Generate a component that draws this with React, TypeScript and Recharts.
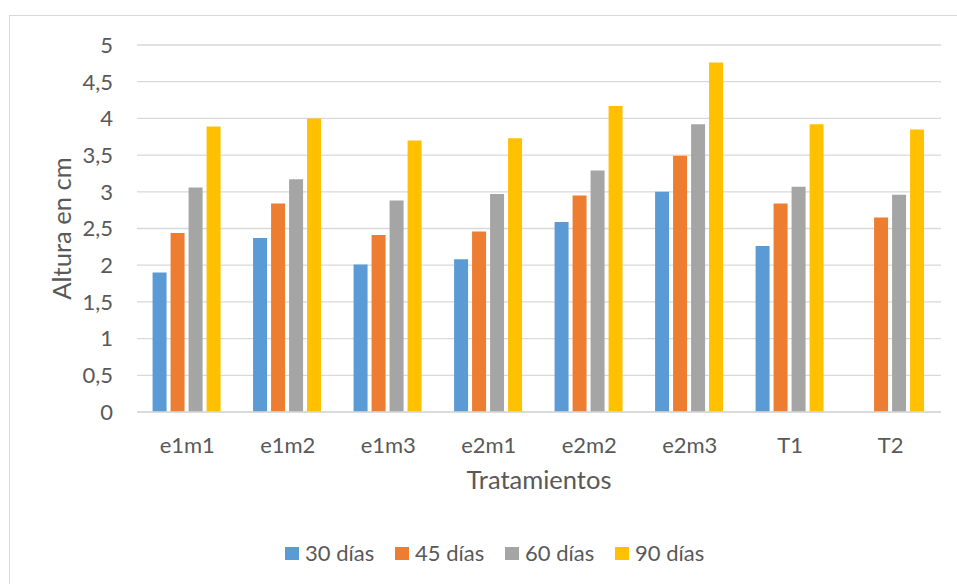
import { Bar, BarChart, CartesianGrid, Label, XAxis, YAxis } from "recharts";

const categories = ["e1m1", "e1m2", "e1m3", "e2m1", "e2m2", "e2m3", "T1", "T2"];
const dias30 = [1.9, 2.37, 2.01, 2.08, 2.59, 3.0, 2.26, null];
const dias45 = [2.44, 2.84, 2.41, 2.46, 2.95, 3.49, 2.84, 2.65];
const dias60 = [3.06, 3.17, 2.88, 2.97, 3.29, 3.92, 3.07, 2.96];
const dias90 = [3.89, 4.0, 3.7, 3.73, 4.17, 4.76, 3.92, 3.85];

const seriesKeys = ["d30", "d45", "d60", "d90"];
const seriesNames = ["30 días", "45 días", "60 días", "90 días"];
const seriesColors = ["#5B9BD5", "#ED7D31", "#A5A5A5", "#FFC000"];
const yTicks = [0, 0.5, 1, 1.5, 2, 2.5, 3, 3.5, 4, 4.5, 5];

const FONT = "Lato, 'Open Sans', sans-serif";
const TEXT = "#595959";
const GRID = "#D9D9D9";

const data = categories.map((name, i) => ({
  name,
  d30: dias30[i],
  d45: dias45[i],
  d60: dias60[i],
  d90: dias90[i],
}));

function YTitle(props: any) {
  const vb = props.viewBox || {};
  const cx = 61;
  const cy = vb.height ? vb.y + vb.height / 2 : 228.5;
  return (
    <text
      x={cx}
      y={cy}
      transform={`rotate(-90 ${cx} ${cy})`}
      textAnchor="middle"
      dominantBaseline="central"
      fill={TEXT}
      fontSize={25.5}
      fontFamily={FONT}
    >
      Altura en cm
    </text>
  );
}

export default function App() {
  return (
    <div
      style={{
        position: "absolute",
        left: 0,
        top: 0,
        width: 957,
        height: 584,
        overflow: "hidden",
        background: "#fff",
        fontFamily: FONT,
      }}
    >
      <div
        style={{
          position: "absolute",
          left: 9,
          top: 15,
          width: 1000,
          height: 1000,
          borderLeft: `1.5px solid ${GRID}`,
          borderTop: `1.5px solid ${GRID}`,
        }}
      />
      <BarChart
        width={957}
        height={584}
        data={data}
        margin={{ top: 45, right: 16, left: 0, bottom: 0 }}
        barGap={4}
        barCategoryGap="15.5%"
        style={{ position: "absolute", left: 0, top: 0 }}
      >
        <CartesianGrid vertical={false} stroke={GRID} strokeWidth={1.3} />
        <XAxis
          dataKey="name"
          height={172}
          tickLine={false}
          tickSize={0}
          tickMargin={25}
          axisLine={{ stroke: GRID, strokeWidth: 1.3 }}
          tick={{ fill: TEXT, fontSize: 22, fontFamily: FONT }}
        >
          <Label
            value="Tratamientos"
            position="insideTop"
            offset={59}
            fill={TEXT}
            fontSize={25.5}
            fontFamily={FONT}
          />
        </XAxis>
        <YAxis
          width={137}
          domain={[0, 5]}
          ticks={yTicks}
          interval={0}
          axisLine={false}
          tickLine={false}
          tickSize={0}
          tickMargin={24}
          tickFormatter={(v: number) => String(v).replace(".", ",")}
          tick={{ fill: TEXT, fontSize: 22, fontFamily: FONT }}
          label={<YTitle />}
        />
        {seriesKeys.map((key, i) => (
          <Bar
            key={key}
            dataKey={key}
            name={seriesNames[i]}
            fill={seriesColors[i]}
            isAnimationActive={false}
          />
        ))}
      </BarChart>
      <div
        style={{
          position: "absolute",
          left: 285,
          top: 541,
          display: "flex",
          alignItems: "center",
          height: 24,
        }}
      >
        {seriesNames.map((name, i) => (
          <div
            key={name}
            style={{ width: 110, display: "flex", alignItems: "center" }}
          >
            <span
              style={{
                width: 14,
                height: 13,
                background: seriesColors[i],
                display: "inline-block",
                marginRight: 6,
              }}
            />
            <span style={{ color: TEXT, fontSize: 22, lineHeight: "24px" }}>
              {name}
            </span>
          </div>
        ))}
      </div>
    </div>
  );
}
